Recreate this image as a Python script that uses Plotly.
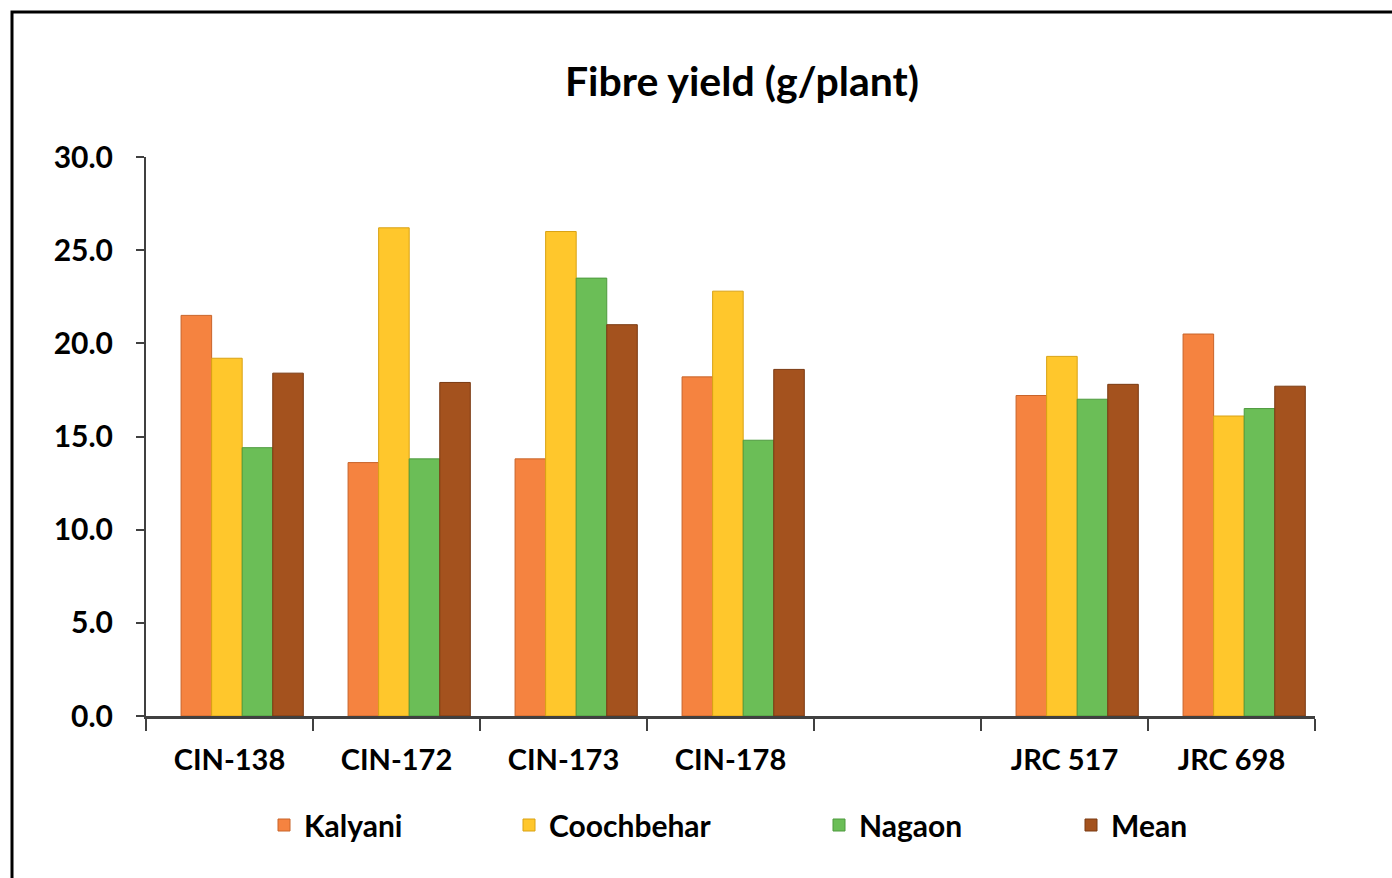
import plotly.graph_objects as go

categories = ["CIN-138", "CIN-172", "CIN-173", "CIN-178", " ", "JRC 517", "JRC 698"]
kalyani = [21.5, 13.6, 13.8, 18.2, None, 17.2, 20.5]
coochbehar = [19.2, 26.2, 26.0, 22.8, None, 19.3, 16.1]
nagaon = [14.4, 13.8, 23.5, 14.8, None, 17.0, 16.5]
mean = [18.4, 17.9, 21.0, 18.6, None, 17.8, 17.7]
series_names = ["Kalyani", "Coochbehar", "Nagaon", "Mean"]
y_ticks = [0, 5, 10, 15, 20, 25, 30]

FONT = "Lato"
colors = ["#F58340", "#FFC72C", "#6BBE57", "#A4521E"]
edges = ["#C8642A", "#D9A214", "#4E9A3E", "#7A3A12"]
offsets = [-0.29, -0.107, 0.076, 0.259]
legend_ids = ["legend", "legend2", "legend3", "legend4"]
legend_x = [(264 - 146) / 1169, (509 - 146) / 1169, (819 - 146) / 1169, (1071 - 146) / 1169]

fig = go.Figure()
for i, (name, vals) in enumerate(zip(series_names, [kalyani, coochbehar, nagaon, mean])):
    fig.add_trace(go.Bar(
        x=categories, y=vals, name=name,
        marker=dict(color=colors[i], line=dict(color=edges[i], width=1)),
        offset=offsets[i], width=0.183,
        legend=legend_ids[i],
    ))

W, H = 1392, 878
L, R, T, B = 146, 1315, 157, 716
pw, ph = R - L, B - T

layout_legends = {}
for i, lid in enumerate(legend_ids):
    layout_legends[lid] = dict(
        x=legend_x[i], y=(B - 825) / ph, xanchor="left", yanchor="middle",
        orientation="h", bgcolor="rgba(0,0,0,0)",
        font=dict(family=FONT, size=30, color="#000000", weight="bold"),
        itemwidth=30, tracegroupgap=0,
    )

fig.update_layout(
    width=W, height=H,
    margin=dict(l=L, r=W - R, t=T, b=H - B),
    paper_bgcolor="white", plot_bgcolor="white",
    title=dict(text="Fibre yield (g/plant)", x=(742 - L) / pw, xref="paper",
               y=1 - 82 / H, yref="container", xanchor="center", yanchor="middle",
               font=dict(family=FONT, size=41, color="#000000", weight="bold")),
    bargap=0.25,
    showlegend=True,
    **layout_legends,
)

fig.update_xaxes(
    type="category", categoryorder="array", categoryarray=categories,
    showline=True, linecolor="#404040", linewidth=3,
    ticks="outside", tickson="boundaries", ticklen=12, tickcolor="#404040", tickwidth=2,
    tickfont=dict(family=FONT, size=29, color="#000000", weight="bold"),
    showgrid=False, zeroline=False, range=[-0.5, 6.5], ticklabelstandoff=16,
)
fig.update_yaxes(
    range=[0, 30], tickvals=y_ticks, tickformat=".1f",
    showline=True, linecolor="#404040", linewidth=2,
    ticks="outside", ticklen=8, tickcolor="#404040", tickwidth=2,
    tickfont=dict(family=FONT, size=30, color="#000000", weight="bold"),
    showgrid=False, zeroline=False, ticklabelstandoff=17,
)

# outer chart frame
fig.add_shape(type="rect", xref="paper", yref="paper",
              x0=(12 - L) / pw, x1=(1410 - L) / pw,
              y0=(B - 900) / ph, y1=(B - 12) / ph,
              line=dict(color="#000000", width=3), fillcolor="rgba(0,0,0,0)", layer="below")

fig.write_html("out.html")
